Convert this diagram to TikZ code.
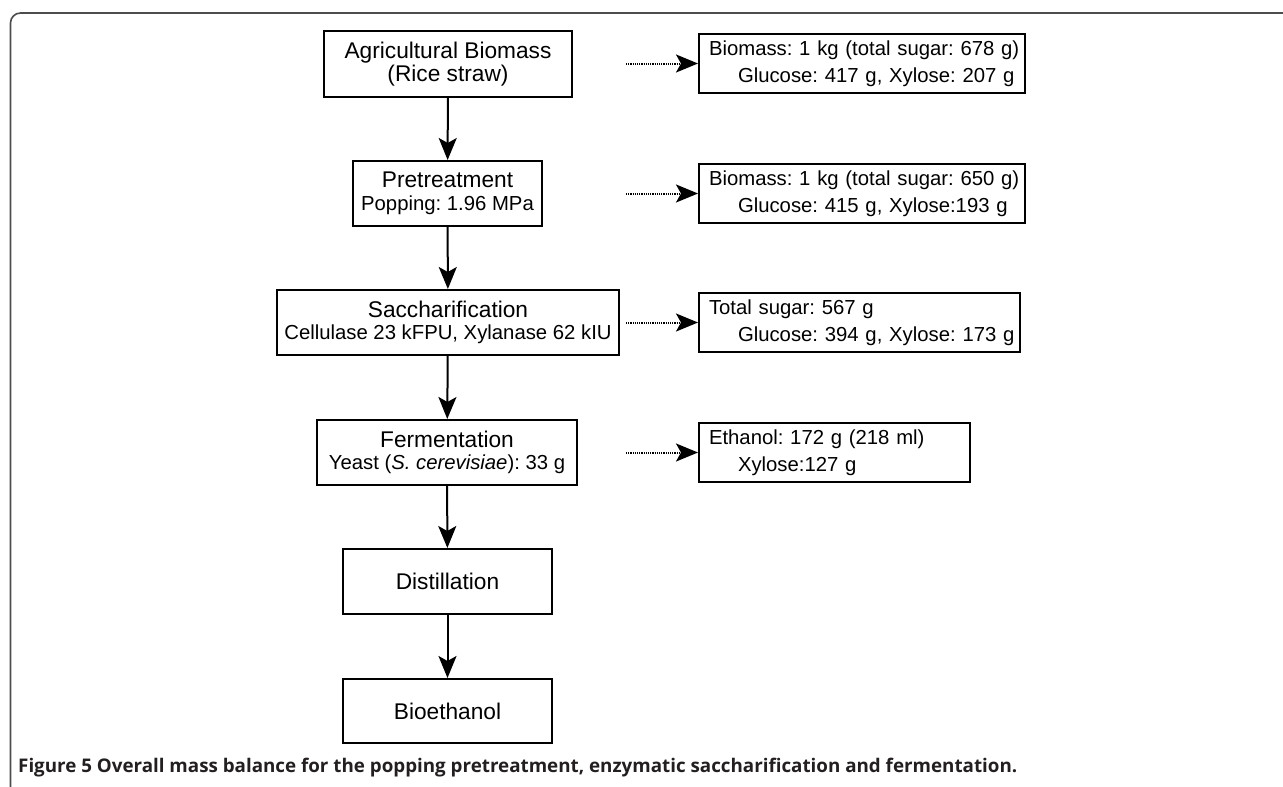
\documentclass[tikz,border=0pt]{standalone}
\usepackage{fontspec}
\usepackage{graphicx}
\setmainfont{Liberation Sans}
\newfontfamily\capfont{Open Sans}
\usetikzlibrary{arrows.meta}
\definecolor{framegray}{HTML}{4D4D4D}
\definecolor{captext}{HTML}{231F20}
\newcommand{\titlesz}{\fontsize{22.7}{22.5}\selectfont}
\newcommand{\subsz}{\fontsize{20.3}{22.5}\selectfont}
\newcommand{\rsz}{\fontsize{20.3}{27}\selectfont}
\frenchspacing
\begin{document}
\frenchspacing
\begin{tikzpicture}[x=1pt,y=-1pt,
  every node/.append style={execute at begin node=\frenchspacing},
  flowbox/.style={draw, line width=2pt, align=center, inner sep=0pt, font=\titlesz},
  databox/.style={draw, line width=2pt, align=left, inner ysep=0pt, inner xsep=10pt, minimum height=59pt, font=\rsz},
  flowarrow/.style={line width=2pt, -{Stealth[length=22pt,width=18pt,inset=5pt]}},
  dataarrow/.style={line width=2pt, dash pattern=on 1.2pt off 1pt, -{Stealth[length=22pt,width=18pt,inset=5pt]}},
]
\useasboundingbox (0,0) rectangle (1283,787);
% frame
\draw[framegray, line width=1.6pt, rounded corners=10pt] (10.5,800) -- (10.5,13) -- (1295,13);

% flow boxes
\node[flowbox, minimum width=248pt, minimum height=66pt] (b1) at (448,64) {Agricultural Biomass\\(Rice straw)};
\node[flowbox, minimum width=189pt, minimum height=65pt] (b2) at (447.5,193.5) {Pretreatment\\{\subsz Popping: 1.96 MPa}};
\node[flowbox, minimum width=342pt, minimum height=65pt] (b3) at (448,322.5) {Saccharification\\{\subsz Cellulase 23 kFPU, Xylanase 62 kIU}};
\node[flowbox, minimum width=260pt, minimum height=65pt] (b4) at (447,452.5) {Fermentation\\{\subsz Yeast (\textit{S. cerevisiae}): 33 g}};
\node[flowbox, minimum width=209pt, minimum height=65pt] (b5) at (447.5,581.5) {Distillation};
\node[flowbox, minimum width=209pt, minimum height=64pt] (b6) at (447.5,711) {Bioethanol};

% data boxes
\node[databox, text width=306pt] (r1) at (862,63.5) {\mbox{Biomass: 1 kg (total sugar: 678 g)}\\\mbox{\hspace*{29pt}Glucose: 417 g, Xylose: 207 g}};
\node[databox, text width=306pt] (r2) at (862,193.5) {\mbox{Biomass: 1 kg (total sugar: 650 g)}\\\mbox{\hspace*{29pt}Glucose: 415 g, Xylose:193 g}};
\node[databox, text width=301pt] (r3) at (859.5,322.5) {\mbox{Total sugar: 567 g}\\\mbox{\hspace*{29pt}Glucose: 394 g, Xylose: 173 g}};
\node[databox, text width=251pt] (r4) at (834.5,452.5) {\mbox{Ethanol: 172 g (218 ml)}\\\mbox{\hspace*{29pt}Xylose:127 g}};

% flow arrows
\draw[flowarrow] (b1) -- (b2);
\draw[flowarrow] (b2) -- (b3);
\draw[flowarrow] (b3) -- (b4);
\draw[flowarrow] (b4) -- (b5);
\draw[flowarrow] (b5) -- (b6);

% dotted arrows
\coordinate (d1) at (626,63.5);
\coordinate (d2) at (626,193.5);
\coordinate (d3) at (626,322.5);
\coordinate (d4) at (626,452.5);
\draw[dataarrow] (d1) -- (r1);
\draw[dataarrow] (d2) -- (r2);
\draw[dataarrow] (d3) -- (r3);
\draw[dataarrow] (d4) -- (r4);

% caption
\node[anchor=base west, inner sep=0pt, text=captext] (cap) at (18,772) {\resizebox{999pt}{!}{\capfont\bfseries Figure 5 Overall mass balance for the popping pretreatment, enzymatic saccharification and fermentation.}};
\end{tikzpicture}
\end{document}
